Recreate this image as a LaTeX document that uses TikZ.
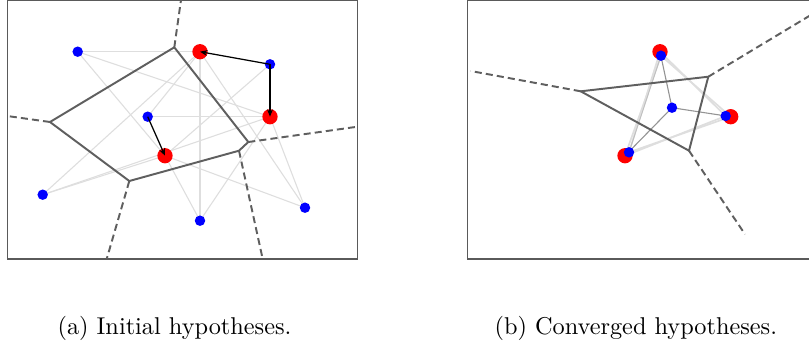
\documentclass[tikz,border=0pt]{standalone}
\usepackage{tikz}
\usetikzlibrary{arrows.meta}
\definecolor{hypred}  {RGB}{255,  0,  0}
\definecolor{sampblue}{RGB}{  0,  0, 255}
\definecolor{cellgray}{RGB}{ 95, 95, 95}
\definecolor{linkgray}{RGB}{222,222,222}
\definecolor{framegray}{RGB}{90, 90, 90}
\tikzset{
  hypo/.style={circle, fill=hypred, inner sep=0pt, minimum size=6.3pt},
  samp/.style={circle, fill=sampblue, inner sep=0pt, minimum size=4.3pt},
  link/.style={linkgray, line width=0.45pt},
  linkdark/.style={black!42, line width=0.45pt},
  cell/.style={cellgray, line width=0.8pt, line join=round},
  ray/.style={cellgray, line width=0.8pt, dash pattern=on 2.9pt off 1.7pt},
  move/.style={black, line width=0.5pt, -{Stealth[length=3pt, width=2.4pt]}},
  axbox/.style={framegray, line width=0.6pt}
}

\begin{document}
\begin{tikzpicture}[x=0.4115pt, y=-0.4115pt]
  \useasboundingbox (0,0) rectangle (809,345);
  \clip (0,0) rectangle (809,345);
  % frames
  \draw[axbox] (7.3,0) rectangle (357.5,259);
  \draw[axbox] (467.5,0) rectangle (815,259);

  % ---------- (a) initial ----------
  \coordinate (r1) at (200,51.7);
  \coordinate (r2) at (270,116.7);
  \coordinate (r3) at (165,155.7);
  \coordinate (b1) at (77.7,51.7);
  \coordinate (b2) at (270,64.3);
  \coordinate (b3) at (147.7,116.7);
  \coordinate (b4) at (42.7,194.7);
  \coordinate (b5) at (200,220.7);
  \coordinate (b6) at (305,207.7);
  % links sample -> hypothesis
  \foreach \s in {b1,b2,b3,b4,b5,b6}
    \foreach \h in {r1,r2,r3}
      \draw[link] (\s) -- (\h);
  % cell boundaries
  \coordinate (v1) at (174.3,47.3);
  \coordinate (v2) at (50,122);
  \coordinate (v3) at (129.3,181);
  \coordinate (v4) at (239,150.7);
  \coordinate (v5) at (248.3,142);
  \draw[cell] (v1) -- (v2) -- (v3) -- (v4) -- (v5) -- cycle;
  \draw[ray] (v1) -- (181,0);
  \draw[ray] (v2) -- (7.3,116);
  \draw[ray] (v3) -- (106.7,259);
  \draw[ray] (v4) -- (262.7,259);
  \draw[ray] (v5) -- (357.5,126.7);
  % points
  \node[hypo] (h1) at (r1) {};
  \node[hypo] (h2) at (r2) {};
  \node[hypo] (h3) at (r3) {};
  \foreach \s in {b1,b2,b3,b4,b5,b6}
    \node[samp] (p\s) at (\s) {};
  % moves
  \draw[move] (pb2.center) -- (h1.center);
  \draw[move] (pb2.center) -- (h2.center);
  \draw[move] (pb3.center) -- (h3.center);

  % ---------- (b) converged ----------
  \coordinate (q1) at (660,51.7);
  \coordinate (q2) at (730.7,116.7);
  \coordinate (q3) at (625,155.7);
  \coordinate (c1) at (661,55.7);
  \coordinate (c2) at (725.7,116);
  \coordinate (c3) at (629,152.3);
  \coordinate (c4) at (672,107.7);
  \draw[link, line width=0.7pt] (c1) -- (q2);
  \draw[link, line width=0.7pt] (c2) -- (q1);
  \draw[link, line width=0.7pt] (c1) -- (q3);
  \draw[link, line width=0.7pt] (c3) -- (q1);
  \draw[link, line width=0.7pt] (c2) -- (q3);
  \draw[link, line width=0.7pt] (c3) -- (q2);
  \draw[black!25, line width=0.4pt] (c1) -- (c3);
  \foreach \h in {q1,q2,q3}
    \draw[linkdark] (c4) -- (\h);
  % cell boundaries
  \coordinate (w1) at (580.7,91.3);
  \coordinate (w2) at (708.3,76.7);
  \coordinate (w3) at (689,150.7);
  \draw[cell] (w1) -- (w2) -- (w3) -- cycle;
  \draw[ray] (w1) -- (470.7,71);
  \draw[ray] (w2) -- (812,14.3);
  \draw[ray] (w3) -- (745,234.3);
  % points
  \node[hypo] (g1) at (q1) {};
  \node[hypo] (g2) at (q2) {};
  \node[hypo] (g3) at (q3) {};
  \foreach \s in {c1,c2,c3,c4}
    \node[samp] (p\s) at (\s) {};

  % captions
  \node[anchor=base] (capa) at (174.5,334) {(a) Initial hypotheses.};
  \node[anchor=base] (capb) at (635.8,334) {(b) Converged hypotheses.};
\end{tikzpicture}
\end{document}
